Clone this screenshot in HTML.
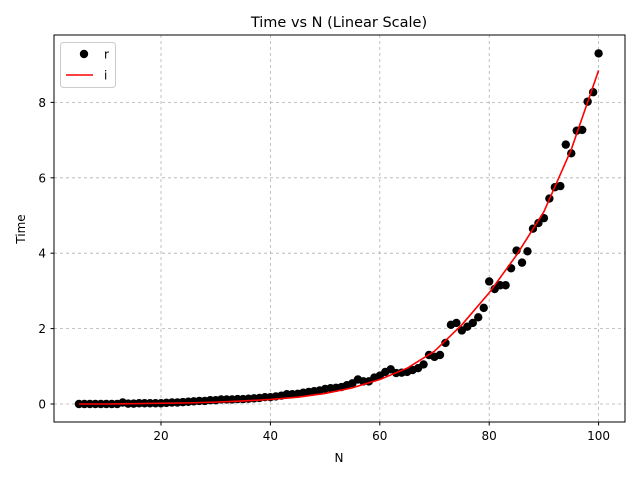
<!DOCTYPE html>
<html><head><meta charset="utf-8"><style>
body{margin:0;background:#fff;font-family:"Liberation Sans","DejaVu Sans",sans-serif;}
</style></head><body>
<svg id="chart" width="640" height="480" font-family="DejaVu Sans, Liberation Sans, sans-serif">
<rect width="640" height="480" fill="#fff"/>
<text x="339" y="27" font-size="14.5" text-anchor="middle">Time vs N (Linear Scale)</text>
<g id="grid"></g>
<g id="marks"></g>
<rect x="54" y="35" width="571" height="387" fill="none" stroke="#000" stroke-width="1"/>
<g id="axes" font-size="12"></g>
<text x="339" y="462" font-size="12" text-anchor="middle">N</text>
<text x="25" y="229" font-size="12" text-anchor="middle" transform="rotate(-90 25 229)">Time</text>
<g>
<rect x="60.5" y="42.5" width="55" height="45" rx="3" fill="#fff" fill-opacity="0.8" stroke="#ccc"/>
<circle cx="84" cy="54" r="4.2" fill="#000"/>
<text x="104" y="58.5" font-size="12">r</text>
<line x1="66" y1="75" x2="93" y2="75" stroke="red" stroke-width="1.5"/>
<text x="104" y="79.5" font-size="12">i</text>
</g>
</svg>
<script>
const nValues = [];
for (let n = 5; n <= 100; n++) nValues.push(n);
const timeValues = [0,0,0,0,0,0,0,0,0.04,0.01,0.01,0.02,0.02,0.02,0.02,0.02,0.03,0.04,0.04,0.05,0.06,0.07,0.08,0.08,0.1,0.1,0.12,0.12,0.12,0.13,0.13,0.14,0.15,0.16,0.18,0.18,0.2,0.22,0.26,0.26,0.27,0.3,0.32,0.34,0.36,0.4,0.42,0.43,0.45,0.5,0.55,0.65,0.6,0.6,0.7,0.75,0.85,0.92,0.82,0.83,0.85,0.9,0.95,1.05,1.3,1.25,1.3,1.62,2.1,2.15,1.95,2.05,2.15,2.3,2.55,3.25,3.05,3.15,3.15,3.6,4.07,3.75,4.05,4.65,4.8,4.93,5.45,5.75,5.78,6.88,6.65,7.25,7.27,8.02,8.27,9.3];
const fitN = [5,10,15,20,25,30,35,40,45,50,55,60,65,70,75,80,85,90,95,100];
const fitValues = [0,0,0.01,0.02,0.03,0.05,0.08,0.12,0.18,0.28,0.43,0.65,0.95,1.4,2.1,2.95,3.95,5.1,6.75,8.85];
const xTicks = [20,40,60,80,100];
const yTicks = [0,2,4,6,8];
const xs = v => 51.6 + (v) * 5.47;
const ys = v => 404 - v * 37.7;
const NS = 'http://www.w3.org/2000/svg';
const grid = document.getElementById('grid'), marks = document.getElementById('marks'), axes = document.getElementById('axes');
function mk(tag, attrs, parent){const e=document.createElementNS(NS,tag);for(const k in attrs)e.setAttribute(k,attrs[k]);parent.appendChild(e);return e;}
xTicks.forEach(t=>{
  const g=mk('line',{x1:xs(t),x2:xs(t),y1:35,y2:422,stroke:'#b0b0b0','stroke-dasharray':'3,3','stroke-width':0.8},grid);
  
  
  mk('line',{x1:xs(t),x2:xs(t),y1:422,y2:425.5,stroke:'#000'},axes);
  const tx=mk('text',{x:xs(t),y:440,'text-anchor':'middle'},axes);tx.textContent=t;
  
  
});
yTicks.forEach(t=>{
  const g=mk('line',{x1:54,x2:625,y1:ys(t),y2:ys(t),stroke:'#b0b0b0','stroke-dasharray':'3,3','stroke-width':0.8},grid);
  
  
  mk('line',{x1:50.5,x2:54,y1:ys(t),y2:ys(t),stroke:'#000'},axes);
  const tx=mk('text',{x:46,y:ys(t)+4.5,'text-anchor':'end'},axes);tx.textContent=t;
  
  
});
nValues.forEach((n,i)=>{
  const c=mk('circle',{cx:xs(n),cy:ys(timeValues[i]),r:4.2,fill:'#000'},marks);
  
  
});
const pl=mk('polyline',{points:fitN.map((n,i)=>xs(n)+','+ys(fitValues[i])).join(' '),fill:'none',stroke:'red','stroke-width':1.6,'stroke-linejoin':'round'},marks);


</script>
</body></html>
